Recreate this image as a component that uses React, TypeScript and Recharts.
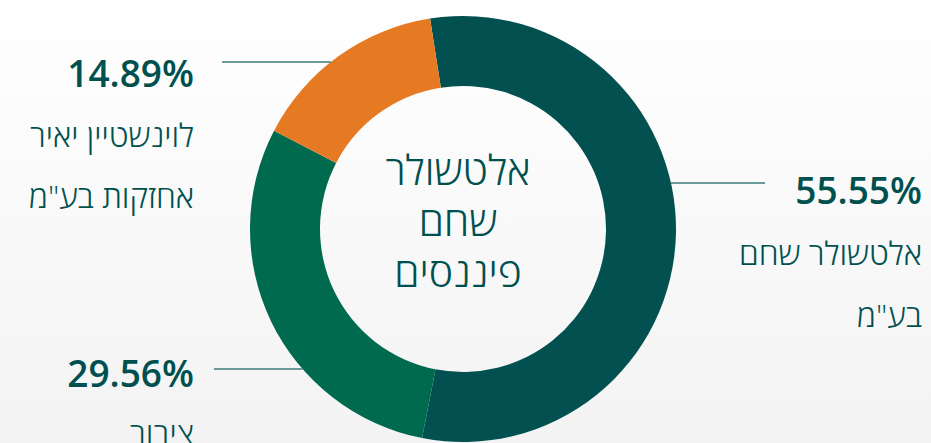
import { PieChart, Pie, Cell, Label } from 'recharts'

// holdings, clockwise from just left of 12 o'clock
const holders = ['אלטשולר שחם בע"מ', 'ציבור', 'לוינשטיין יאיר אחזקות בע"מ']
const nameLines = [['אלטשולר שחם', 'בע"מ'], ['ציבור'], ['לוינשטיין יאיר', 'אחזקות בע"מ']]
const shares = [55.55, 29.56, 14.89]
const centerTitle = ['אלטשולר', 'שחם', 'פיננסים']

const COLORS = ['#02504f', '#006a4f', '#e67a23']
const TEXT = '#00504f'
const FONT = '"Open Sans", "Noto Sans", sans-serif'

const CX = 458
const CY = 224
const R_IN = 143
const R_OUT = 213

// where each callout sits (relative to the pie centre)
const CALLOUTS = [
  { side: 'right', lineY: -46, lineEnd: 765, textX: 922, pctY: -25, nameY: [36, 98] },
  { side: 'left', lineY: 140, lineEnd: 214, textX: 194, pctY: 158, nameY: [216] },
  { side: 'left', lineY: -167, lineEnd: 222, textX: 194, pctY: -142, nameY: [-82, -21] },
]

const data = holders.map((name, i) => ({ name, value: shares[i] }))

function renderCallout(props: any) {
  const i: number = props.index
  const c = CALLOUTS[i]
  const cx = props.cx ?? CX
  const cy = props.cy ?? CY
  const r = props.outerRadius ?? R_OUT
  const dy = c.lineY
  const dx = Math.sqrt(Math.max(r * r - dy * dy, 0))
  const x0 = c.side === 'right' ? cx + dx : cx - dx
  return (
    <g key={`co-${i}`}>
      <line x1={x0} y1={cy + dy} x2={c.lineEnd} y2={cy + dy} stroke="#3a7b7a" strokeWidth={1.5} />
      <text x={c.textX} y={cy + c.pctY} textAnchor="end" fill={TEXT}
        style={{ fontFamily: FONT, fontSize: 37, fontWeight: 600 }}>
        {shares[i].toFixed(2)}%
      </text>
      {nameLines[i].map((t, j) => (
        <text key={j} x={c.textX} y={cy + c.nameY[j]} textAnchor="end" fill={TEXT}
          style={{ fontFamily: FONT, fontSize: 32, fontWeight: 300 }}>
          {t}
        </text>
      ))}
    </g>
  )
}

function CenterTitle(props: any) {
  const vb = props.viewBox || {}
  const cx = vb.cx ?? CX
  const cy = vb.cy ?? CY
  return (
    <g>
      {centerTitle.map((t, j) => (
        <text key={j} x={cx} y={cy - 39 + j * 51} textAnchor="middle" fill={TEXT}
          style={{ fontFamily: FONT, fontSize: 41, fontWeight: 300 }}>
          {t}
        </text>
      ))}
    </g>
  )
}

export default function App() {
  return (
    <div
      style={{
        position: 'fixed',
        left: 0,
        top: 0,
        width: 931,
        height: 443,
        overflow: 'hidden',
        background: 'linear-gradient(to bottom, #ffffff 0%, #f3f3f3 100%)',
      }}
    >
      <PieChart width={931} height={443}>
        <Pie
          data={data}
          dataKey="value"
          nameKey="name"
          cx={CX}
          cy={CY}
          innerRadius={R_IN}
          outerRadius={R_OUT}
          startAngle={98.9}
          endAngle={-261.1}
          stroke="none"
          labelLine={false}
          label={renderCallout}
          isAnimationActive={false}
        >
          {data.map((_, i) => (
            <Cell key={i} fill={COLORS[i]} />
          ))}
          <Label position="center" content={<CenterTitle />} />
        </Pie>
      </PieChart>
    </div>
  )
}
